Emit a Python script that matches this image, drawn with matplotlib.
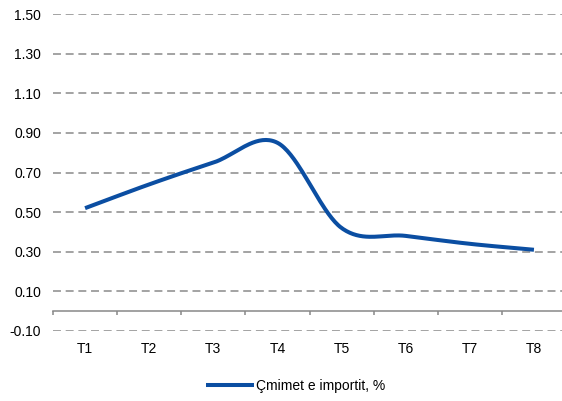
import numpy as np
import matplotlib.pyplot as plt

plt.rcParams['font.family'] = ['Liberation Sans', 'DejaVu Sans']
plt.rcParams['font.size'] = 10

quarters = ["T1", "T2", "T3", "T4", "T5", "T6", "T7", "T8"]
import_prices = [0.52, 0.64, 0.75, 0.85, 0.42, 0.38, 0.34, 0.31]
y_ticks = [-0.10, 0.10, 0.30, 0.50, 0.70, 0.90, 1.10, 1.30, 1.50]


def smooth(x, y, n=40):
    # Catmull-Rom spline through every point, like a spreadsheet "smoothed line"
    x = np.asarray(x, float)
    y = np.asarray(y, float)
    px = np.concatenate([[2 * x[0] - x[1]], x, [2 * x[-1] - x[-2]]])
    py = np.concatenate([[2 * y[0] - y[1]], y, [2 * y[-1] - y[-2]]])
    xs, ys = [], []
    t = np.linspace(0, 1, n)
    h00 = 2 * t**3 - 3 * t**2 + 1
    h10 = t**3 - 2 * t**2 + t
    h01 = -2 * t**3 + 3 * t**2
    h11 = t**3 - t**2
    for i in range(1, len(px) - 2):
        m0 = (py[i + 1] - py[i - 1]) / 2
        m1 = (py[i + 2] - py[i]) / 2
        xs.append(px[i] + t * (px[i + 1] - px[i]))
        ys.append(h00 * py[i] + h10 * m0 + h01 * py[i + 1] + h11 * m1)
    return np.concatenate(xs), np.concatenate(ys)


fig = plt.figure(figsize=(5.62, 4.01), dpi=100)
# axes run a little past the right edge, so the grid reaches the border
ax = fig.add_axes([53 / 562, 1 - 331 / 401, 513 / 562, 317 / 401])

pos = np.arange(len(quarters))
sx, sy = smooth(pos, import_prices)
ax.plot(sx, sy, color="#0b4ea2", lw=2.9, solid_capstyle="butt",
        label="Çmimet e importit, %", zorder=3)

ax.set_ylim(-0.10, 1.50)
ax.set_xlim(-0.5, len(quarters) - 0.5)
ax.set_yticks(y_ticks)
ax.set_yticklabels([f"{v:.2f}" for v in y_ticks])
for v in y_ticks:
    ax.axhline(v, color="#8a8a8a", lw=1.1, ls=(0, (5.2, 3.1)), zorder=1)

for side in ["left", "right", "top"]:
    ax.spines[side].set_visible(False)
ax.spines["bottom"].set_position(("data", 0))
ax.spines["bottom"].set_color("#888888")
ax.spines["bottom"].set_linewidth(1.1)

ax.set_xticks(pos)
ax.set_xticklabels(quarters)
ax.set_xticks(np.arange(-0.5, len(quarters) - 0.5, 1), minor=True)
ax.tick_params(axis="x", which="major", length=0, pad=22)
ax.tick_params(axis="x", which="minor", length=3, width=1.1, color="#888888",
               direction="out")
ax.tick_params(axis="y", length=0, pad=8.5)

fig.legend(loc="center", bbox_to_anchor=(296 / 562, 1 - 386 / 401),
           frameon=False, handlelength=3.4, handletextpad=0.2)

fig.savefig("out.png", dpi=100)
